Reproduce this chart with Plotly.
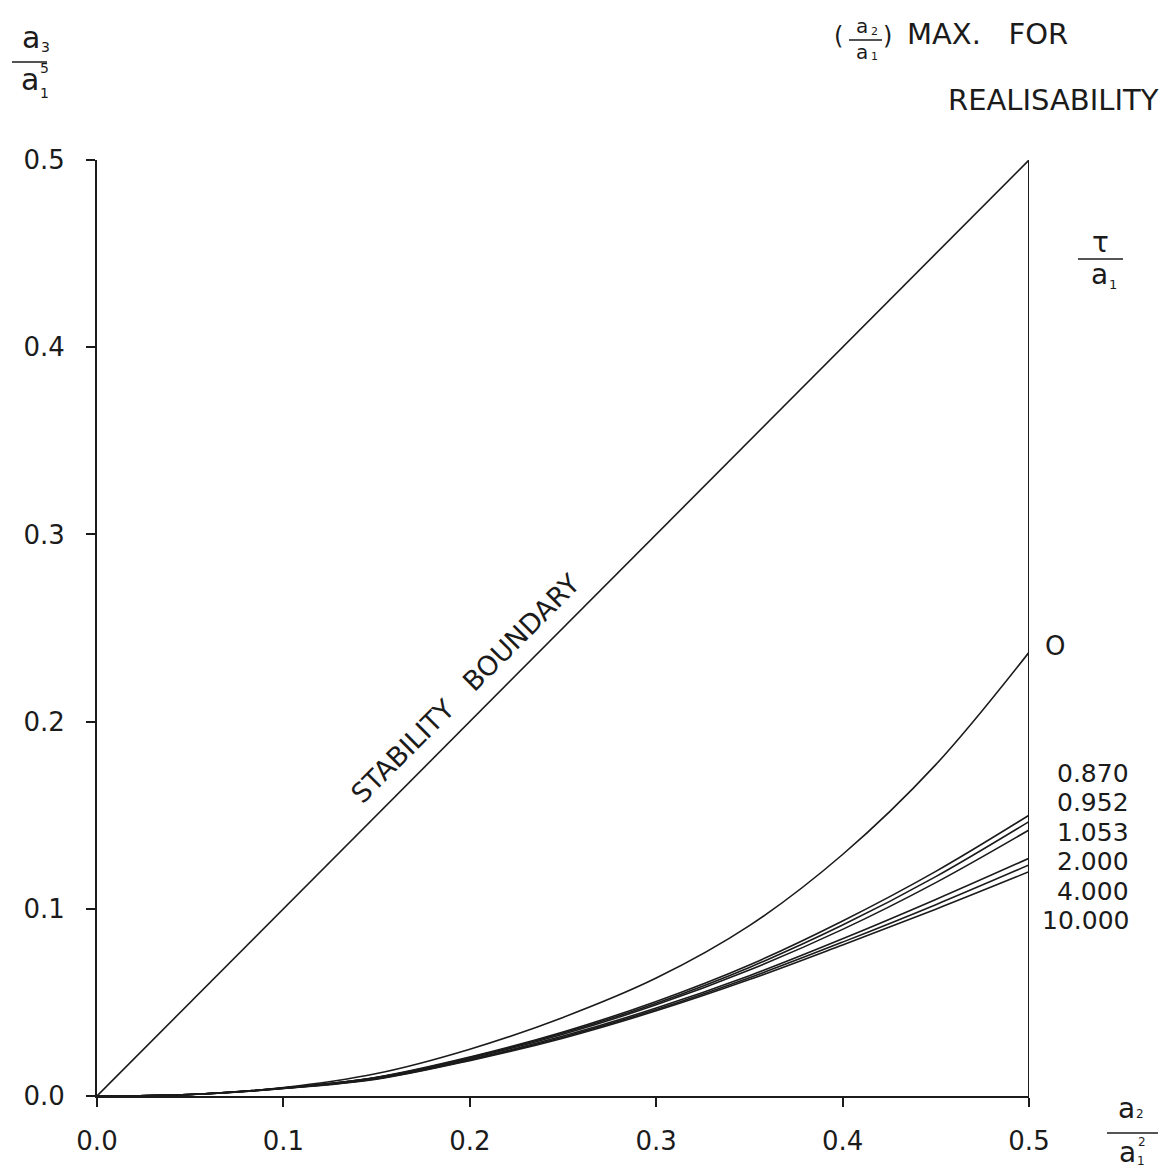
import plotly.graph_objects as go

# ---- data ----
x_vals = [0.0, 0.05, 0.10, 0.15, 0.20, 0.25, 0.30, 0.35, 0.40, 0.45, 0.50]
stability = [0.0, 0.5]
stability_x = [0.0, 0.5]
tau_0     = [0, 0.0008, 0.0045, 0.0120, 0.0250, 0.0420, 0.0630, 0.0910, 0.1290, 0.1770, 0.2370]
tau_0870  = [0, 0.0008, 0.0043, 0.0100, 0.0208, 0.0342, 0.0505, 0.0700, 0.0935, 0.1200, 0.1500]
tau_0952  = [0, 0.0008, 0.0043, 0.0099, 0.0205, 0.0336, 0.0496, 0.0687, 0.0913, 0.1172, 0.1466]
tau_1053  = [0, 0.0008, 0.0042, 0.0098, 0.0201, 0.0330, 0.0487, 0.0673, 0.0890, 0.1140, 0.1421]
tau_2000  = [0, 0.0008, 0.0041, 0.0094, 0.0195, 0.0320, 0.0470, 0.0643, 0.0840, 0.1050, 0.1270]
tau_4000  = [0, 0.0008, 0.0040, 0.0092, 0.0192, 0.0314, 0.0462, 0.0632, 0.0822, 0.1022, 0.1234]
tau_10000 = [0, 0.0008, 0.0040, 0.0090, 0.0189, 0.0309, 0.0455, 0.0622, 0.0807, 0.0998, 0.1198]
tau_labels = ["0.870", "0.952", "1.053", "2.000", "4.000", "10.000"]
tick_vals = [0.0, 0.1, 0.2, 0.3, 0.4, 0.5]
tick_text = ["0.0", "0.1", "0.2", "0.3", "0.4", "0.5"]

W, H = 1169, 1171
L, R, T, B = 97, 1029, 160, 1096
FONT = "DejaVu Sans"
INK = "#1b1b1b"

def px(xp):
    return (xp - L) / (R - L)

def py(yp):
    return (B - yp) / (B - T)

fig = go.Figure()
fig.add_trace(go.Scatter(x=stability_x, y=stability, mode="lines", line=dict(color=INK, width=1.6), showlegend=False))
for ys in [tau_0, tau_0870, tau_0952, tau_1053, tau_2000, tau_4000, tau_10000]:
    fig.add_trace(go.Scatter(x=x_vals, y=ys, mode="lines",
                             line=dict(color=INK, width=1.6, shape="spline", smoothing=1.0), showlegend=False))
# right boundary line at x = 0.5
fig.add_trace(go.Scatter(x=[0.5, 0.5], y=[0.0, 0.5], mode="lines", line=dict(color=INK, width=2), showlegend=False))

ann = []
def text(xp, yp, s, size=24, xanchor="center", yanchor="middle", angle=0):
    ann.append(dict(x=px(xp), y=py(yp), xref="paper", yref="paper", text=s, showarrow=False,
                    font=dict(family=FONT, size=size, color=INK), xanchor=xanchor, yanchor=yanchor,
                    textangle=angle))

# STABILITY BOUNDARY
text(465, 688, "STABILITY   BOUNDARY", size=27, angle=-45)
# tau = 0 label
text(1055, 646, "O", size=26)
# tau labels
for i, lab in enumerate(tau_labels):
    text(1131, 773 + i * 29.5, lab, size=25, xanchor="right")

shapes = []
def hline(x0, x1, yp):
    shapes.append(dict(type="line", xref="paper", yref="paper", x0=px(x0), x1=px(x1), y0=py(yp), y1=py(yp),
                       line=dict(color=INK, width=1.5)))

# top-left y label a3 / a1^5
text(31, 37, "a", size=30)
text(45, 47, "3", size=14)
hline(12, 47, 62)
text(30, 79, "a", size=30)
text(44, 68, "5", size=14)
text(44, 93, "1", size=14)

# top-right: (a2/a1) MAX. FOR  REALISABILITY
text(838, 36, "(", size=24)
text(862, 26, "a", size=20)
text(874, 31, "2", size=11)
hline(849, 882, 40)
text(862, 52, "a", size=20)
text(874, 57, "1", size=11)
text(887, 36, ")", size=24)
text(905, 34, "MAX.   FOR", size=29, xanchor="left")
text(1161, 100, "REALISABILITY", size=29, xanchor="right")

# right: tau / a1
text(1100, 242, "τ", size=28)
hline(1078, 1123, 259)
text(1099, 274, "a", size=28)
text(1113, 284, "1", size=13)

# bottom-right: a2 / a1^2
text(1126, 1108, "a", size=28)
text(1140, 1114, "2", size=12)
hline(1107, 1158, 1133)
text(1127, 1152, "a", size=28)
text(1142, 1142, "2", size=12)
text(1141, 1161, "1", size=12)

axis_common = dict(range=[0, 0.5], tickvals=tick_vals, ticktext=tick_text, showgrid=False, zeroline=False,
                   showline=True, linecolor=INK, linewidth=2, ticks="outside", ticklen=9, tickwidth=2,
                   tickcolor=INK, tickfont=dict(family=FONT, size=26, color=INK))
fig.update_layout(
    width=W, height=H,
    margin=dict(l=L, r=W - R, t=T, b=H - B, pad=0),
    paper_bgcolor="white", plot_bgcolor="white",
    xaxis=dict(**axis_common, ticklabelstandoff=12),
    yaxis=dict(**axis_common, ticklabelstandoff=16),
    annotations=ann, shapes=shapes,
    showlegend=False,
)
fig.write_html("out.html")
